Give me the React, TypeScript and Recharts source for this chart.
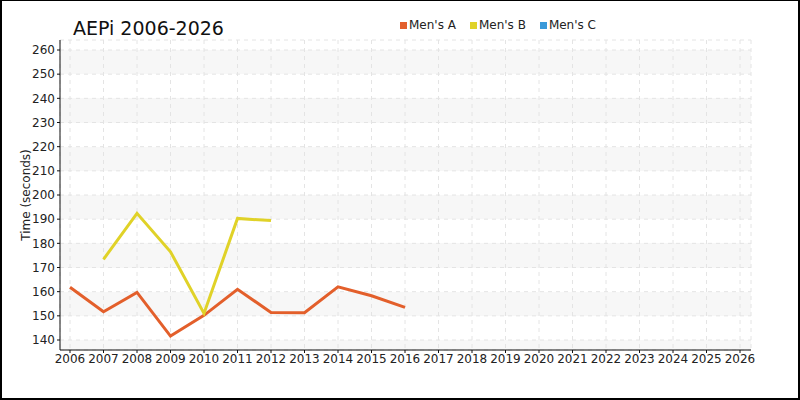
import { LineChart, Line, XAxis, YAxis, CartesianGrid, Legend } from 'recharts'

// race years shown on the x axis
const years = [
  2006, 2007, 2008, 2009, 2010, 2011, 2012, 2013, 2014, 2015, 2016,
  2017, 2018, 2019, 2020, 2021, 2022, 2023, 2024, 2025, 2026
]

// times in seconds, null where the team did not race
const mensA = [161.8, 151.7, 159.7, 141.6, 150.2, 161, 151.4, 151.3, 162, 158.3, 153.5]
const mensB = [null, 173.4, 192.4, 176.5, 151, 190.3, 189.4]
const mensC: (number | null)[] = []

const yTicks = [140, 150, 160, 170, 180, 190, 200, 210, 220, 230, 240, 250, 260]

const series = [
  { key: 'mensA', name: "Men's A", color: '#e35f2b' },
  { key: 'mensB', name: "Men's B", color: '#e0d228' },
  { key: 'mensC', name: "Men's C", color: '#3a9ad9' }
]

const data = years.map((year, i) => ({
  year,
  mensA: mensA[i] ?? null,
  mensB: mensB[i] ?? null,
  mensC: mensC[i] ?? null
}))

const font = '"DejaVu Sans", Verdana, sans-serif'

function LegendItems() {
  return (
    <div style={{ fontFamily: font, fontSize: 12, lineHeight: '14px', color: '#222', whiteSpace: 'nowrap' }}>
      {series.map((s, i) => (
        <span key={s.key} style={{ marginLeft: i === 0 ? 0 : 14 }}>
          <span style={{ display: 'inline-block', width: 7, height: 7, background: s.color, marginRight: 2 }} />
          {s.name}
        </span>
      ))}
    </div>
  )
}

export default function App() {
  return (
    <div style={{ position: 'fixed', left: 0, top: 0, width: 800, height: 400, background: '#fff' }}>
      <LineChart
        width={800}
        height={400}
        data={data}
        margin={{ top: 40, right: 49, bottom: 20, left: 0 }}
      >
        <CartesianGrid
          stroke="#e4e4e4"
          strokeDasharray="4 4"
          horizontalFill={['#ffffff', '#f7f7f7']}
        />
        <XAxis
          dataKey="year"
          type="number"
          domain={[2006, 2026]}
          ticks={years}
          interval={0}
          padding={{ left: 10, right: 11 }}
          tickSize={3}
          tickMargin={1}
          stroke="#111"
          tick={{ fill: '#222', fontSize: 12, fontFamily: font }}
        />
        <YAxis
          type="number"
          domain={[140, 260]}
          ticks={yTicks}
          interval={0}
          width={60}
          padding={{ top: 10, bottom: 10 }}
          tickSize={3}
          tickMargin={2}
          stroke="#111"
          tick={{ fill: '#222', fontSize: 12, fontFamily: font }}
          label={{
            value: 'Time (seconds)',
            angle: -90,
            position: 'insideLeft',
            offset: 26,
            style: { textAnchor: 'middle', fill: '#222', fontSize: 12, fontFamily: font }
          }}
        />
        <Legend
          layout="horizontal"
          verticalAlign="middle"
          align="center"
          content={<LegendItems />}
          wrapperStyle={{ top: 18, left: 400, width: 'auto', height: 14 }}
        />
        {series.map(s => (
          <Line
            key={s.key}
            type="linear"
            dataKey={s.key}
            name={s.name}
            stroke={s.color}
            strokeWidth={3}
            dot={false}
            activeDot={false}
            connectNulls={false}
            isAnimationActive={false}
          />
        ))}
      </LineChart>
      <svg width={800} height={60} style={{ position: 'absolute', left: 0, top: 0, pointerEvents: 'none' }}>
        <text x={73} y={35} fontFamily={font} fontSize={19} fill="#111">AEPi 2006-2026</text>
      </svg>
      <div
        style={{
          position: 'absolute',
          left: 0,
          top: 0,
          width: 800,
          height: 400,
          boxSizing: 'border-box',
          borderStyle: 'solid',
          borderColor: '#000',
          borderWidth: '1px 2px 2px 2px',
          pointerEvents: 'none'
        }}
      />
    </div>
  )
}
